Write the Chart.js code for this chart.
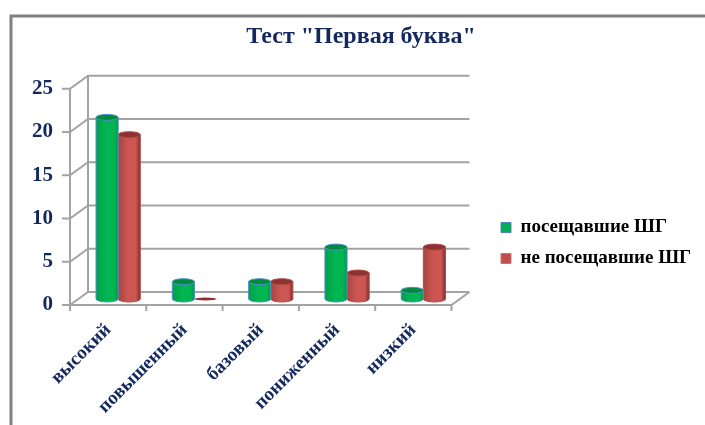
<!DOCTYPE html>
<html>
<head>
    <title>Тест "Первая буква"</title>
    <script src="https://cdn.jsdelivr.net/npm/chart.js"></script>
    <style>
        html, body { margin: 0; padding: 0; background: #fff; }
        canvas { display: block; filter: blur(0.5px); }
    </style>
</head>
<body>
    <canvas id="testChart" width="705" height="425"></canvas>
    <script>
        const categories = ['высокий', 'повышенный', 'базовый', 'пониженный', 'низкий'];
        const attended = [21, 2, 2, 6, 1];
        const notAttended = [19, 0, 2, 3, 6];
        const seriesNames = ['посещавшие ШГ', 'не посещавшие ШГ'];
        const chartTitle = 'Тест "Первая буква"';

        const NAVY = '#12285f';
        const WALL = '#a3a3a3';
        const DEPTH_X = 18, DEPTH_Y = 13;   // how far the back wall sits behind the front plane
        const BAR_X = 10, BAR_Y = 6;        // bars stand in the middle of the floor

        // cylinder colours: edge, centre, far edge, cap
        const cylinders = [
            { left: '#00a04a', mid: '#00b652', right: '#009a48', cap: '#008a40', line: '#4f8fc8' },
            { left: '#a84442', mid: '#cc5652', right: '#7f2e2c', cap: '#8c3230', line: '#b04a48' }
        ];

        // frame, walls and axes of the fake 3D box
        const wallsPlugin = {
            id: 'walls',
            beforeDatasetsDraw(chart) {
                const { ctx, scales: { x, y } } = chart;
                const left = x.left, right = x.right, bottom = y.getPixelForValue(0);

                ctx.save();
                ctx.strokeStyle = '#808080';
                ctx.lineWidth = 3;
                ctx.beginPath();
                ctx.moveTo(705, 16);
                ctx.lineTo(11, 16);
                ctx.lineTo(11, 425);
                ctx.stroke();

                ctx.strokeStyle = WALL;
                ctx.lineWidth = 2;
                ctx.beginPath();
                y.ticks.forEach(t => {
                    const py = y.getPixelForValue(t.value);
                    ctx.moveTo(left - 8, py);
                    ctx.lineTo(left, py);
                    ctx.lineTo(left + DEPTH_X, py - DEPTH_Y);
                    ctx.lineTo(right + DEPTH_X, py - DEPTH_Y);
                });
                ctx.moveTo(left + DEPTH_X, y.getPixelForValue(y.max) - DEPTH_Y);
                ctx.lineTo(left + DEPTH_X, bottom - DEPTH_Y);
                ctx.moveTo(left, y.getPixelForValue(y.max));
                ctx.lineTo(left, bottom);
                ctx.moveTo(left, bottom);
                ctx.lineTo(right, bottom);
                ctx.lineTo(right + DEPTH_X, bottom - DEPTH_Y);
                for (let i = 0; i <= categories.length; i++) {
                    const px = left + (right - left) * i / categories.length;
                    ctx.moveTo(px, bottom);
                    ctx.lineTo(px, bottom + 6);
                }
                ctx.stroke();
                ctx.restore();
            },
            // bars are drawn as cylinders from the bar elements the library laid out
            beforeDatasetDraw(chart, args) {
                const { ctx } = chart;
                const style = cylinders[args.index];
                args.meta.data.forEach(bar => {
                    const l = bar.x - bar.width / 2 + BAR_X, r = bar.x + bar.width / 2 + BAR_X;
                    const top = bar.y - BAR_Y, base = bar.base - BAR_Y;
                    const cx = (l + r) / 2, rx = (r - l) / 2;
                    const ry = top === base ? 1.5 : 3;
                    ctx.save();
                    if (top !== base) {
                        const g = ctx.createLinearGradient(l, 0, r, 0);
                        g.addColorStop(0, style.left);
                        g.addColorStop(0.45, style.mid);
                        g.addColorStop(0.8, style.mid);
                        g.addColorStop(1, style.right);
                        ctx.fillStyle = g;
                        ctx.beginPath();
                        ctx.moveTo(l, top);
                        ctx.lineTo(l, base);
                        ctx.ellipse(cx, base, rx, ry, 0, Math.PI, 0, true);
                        ctx.lineTo(r, top);
                        ctx.closePath();
                        ctx.fill();
                        ctx.strokeStyle = style.line;
                        ctx.lineWidth = 1;
                        ctx.stroke();
                    }
                    ctx.fillStyle = style.cap;
                    ctx.beginPath();
                    ctx.ellipse(cx, top, rx, ry, 0, 0, Math.PI * 2);
                    ctx.fill();
                    if (top !== base) {
                        ctx.strokeStyle = style.line;
                        ctx.lineWidth = 1;
                        ctx.stroke();
                    }
                    ctx.restore();
                });
                return false;
            },
            // the title and the legend sit off the default spots
            afterLayout(chart) {
                const t = chart.titleBlock;
                t.left = 0; t.right = 722;
                const lg = chart.legend;
                lg.left = 489; lg.right = 705;
                lg.top = 206; lg.bottom = 400;
            }
        };

        new Chart(document.getElementById('testChart'), {
            type: 'bar',
            data: {
                labels: categories,
                datasets: [
                    { label: seriesNames[0], data: attended, backgroundColor: '#00b050', borderColor: '#4f81bd', borderWidth: 1 },
                    { label: seriesNames[1], data: notAttended, backgroundColor: '#c0504d', borderColor: '#d0706c', borderWidth: 1 }
                ]
            },
            plugins: [wallsPlugin],
            options: {
                responsive: false,
                animation: false,
                layout: { padding: { top: 0, right: 103, bottom: 0, left: 0 } },
                scales: {
                    x: {
                        grid: { display: false },
                        border: { display: false },
                        ticks: {
                            minRotation: 45, maxRotation: 45, padding: 6,
                            color: NAVY,
                            font: { family: 'Liberation Serif', size: 19, weight: 'bold' }
                        },
                        afterFit(s) { s.height = 120; }
                    },
                    y: {
                        min: 0, max: 25,
                        grid: { display: false },
                        border: { display: false },
                        ticks: {
                            stepSize: 5, padding: 9,
                            color: NAVY,
                            font: { family: 'Liberation Serif', size: 21, weight: 'bold' }
                        },
                        afterFit(s) { s.width = 70; }
                    }
                },
                datasets: { bar: { categoryPercentage: 0.58, barPercentage: 1 } },
                plugins: {
                    title: {
                        display: true,
                        text: chartTitle,
                        color: NAVY,
                        font: { family: 'Liberation Serif', size: 24, weight: 'bold' },
                        padding: { top: 22, bottom: 38 }
                    },
                    legend: {
                        position: 'right',
                        align: 'start',
                        labels: {
                            boxWidth: 10, boxHeight: 10, padding: 12,
                            color: '#000',
                            font: { family: 'Liberation Serif', size: 19, weight: 'bold' }
                        }
                    },
                    tooltip: { enabled: false }
                }
            }
        });
    </script>
</body>
</html>
